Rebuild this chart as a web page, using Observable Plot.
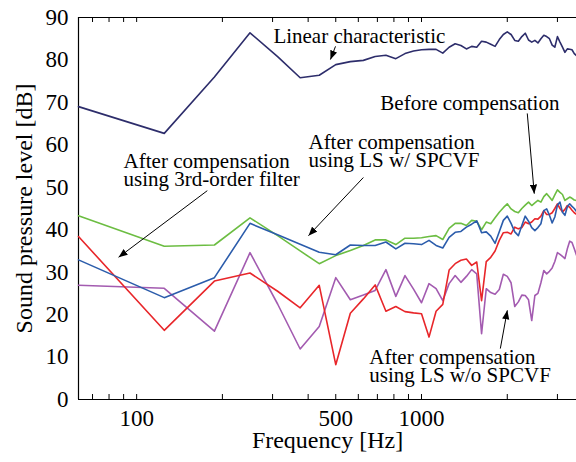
<!DOCTYPE html>
<html><head><meta charset="utf-8">
<script src="https://cdn.jsdelivr.net/npm/d3@7"></script>
<script src="https://cdn.jsdelivr.net/npm/@observablehq/plot@0.6"></script>
<style>body{margin:0;background:#fff}</style>
</head><body><div id="chart"></div>
<script>
// Frequency bins (Hz)
const freq = [62.5,125,187.5,250,312.5,375,437.5,500,562.5,625,687.5,750,812.5,875,937.5,1000,
  1062.5,1125,1187.5,1250,1312.5,1375,1437.5,1500,1562.5,1625,1687.5,1750,1812.5,1875,1937.5,2000,
  2062.5,2125,2187.5,2250,2312.5,2375,2437.5,2500,2562.5,2625,2687.5,2750,2812.5,2875,2937.5,3000,
  3062.5,3125,3187.5,3250,3312.5,3375,3437.5,3500];

// Sound pressure level [dB] per series
const linearChar = [69,62.7,76,86.4,80.8,75.8,76.4,78.9,79.6,79.9,80.8,81.1,80.3,81.5,82.1,82.4,82.5,82.5,81.6,83,
  83.8,83.4,82.6,83.2,83,84.4,84.2,83.7,83.2,84.8,86,86.6,86,84.6,84.4,85.5,86.3,84.7,84.2,84.6,
  84,85,85.8,85.5,85,83.5,83,85.5,84.2,83,81.8,82.6,82.5,82.4,81.5,81];
const beforeComp = [43.3,36.1,36.4,42.8,38.6,35,32,33.9,35.1,36.3,37.6,37.6,36.5,38,38,38.1,38.4,38.6,37.7,40.3,
  41.5,41.5,41,42.2,42,40,41.8,41.4,42.8,44.1,45.2,46.1,44.9,44.3,44,45,45.8,46.5,45.7,46.3,
  46.9,46.5,47.8,48.5,47.7,46.9,48.2,49.4,48.8,48.3,46.9,47.3,47.7,47.4,47,46.9];
const lsWithSpcvf = [32.9,24,28.7,41.5,38.8,36.6,34.7,34.1,36.4,36.3,36.3,37.1,35.5,36.8,36.7,36.5,37.5,36.3,35.7,38.2,
  39.4,39.6,40.6,41.3,42.1,39.3,39.5,38.5,36.8,39.5,42.2,43.2,41.5,39.5,38.6,41,43.2,42,40.5,39.8,
  40.5,41.4,44.5,44.9,43.4,41.6,43,45.8,46.5,44.1,43.4,45.4,46.1,45.5,45,44.3];
const thirdOrder = [38.4,16.3,27.9,29.8,25.5,21.6,26.9,8.2,20.3,23.7,27,20.8,21.9,20.7,20.4,20.2,14.7,20.8,22.4,30.5,
  32,32.8,33.1,31.6,32.4,23.3,32.5,33.5,35,37.5,39.3,39.4,39,40.6,40.2,40.5,41.8,41.4,41.8,42.6,
  42.5,43.2,44.5,43.6,43.6,44,45,46.1,45,44.2,44.8,45.7,45.3,44.6,44,43.6];
const lsWithoutSpcvf = [26.9,26.2,16.1,34.6,22.5,11.9,17.2,28.7,23.5,24.6,25.7,30.6,24.3,29.2,26,22.8,27.3,26.1,23.3,27.3,
  29.2,27.6,29,30.6,29.6,15.5,26.1,25.2,24.8,25.9,29.5,29,27.5,21.9,23,24.6,24.5,23.5,18.6,24.5,
  25,27.5,30.4,29.6,30.2,31,32.5,34.6,34.2,33.7,33.2,35.5,37.3,37,35.5,34];

const seriesNames = ["Linear characteristic","After compensation using LS w/o SPCVF","After compensation using 3rd-order filter","Before compensation","After compensation using LS w/ SPCVF"];
const seriesValues = [linearChar, lsWithoutSpcvf, thirdOrder, beforeComp, lsWithSpcvf];
const seriesColors = ["#2d2d6b","#a35bb0","#e8262a","#6cbd42","#2b5cab"];

const xDomain = [62.5, 3500];
const yDomain = [0, 90];
const yTicks = [0,10,20,30,40,50,60,70,80,90];
const xTickLabels = [100,500,1000];
const xMinorTicks = [70,80,90,100,200,300,400,500,600,700,800,900,1000,2000,3000];

// annotations (position in data units: Hz, dB)
const noteText = ["Linear characteristic","Before compensation","After compensation\nusing LS w/ SPCVF","After compensation\nusing 3rd-order filter","After compensation\nusing LS w/o SPCVF"];
const noteF = [302, 717, 401, 90, 656];
const noteV = [84.1, 68.3, 54.8, 50.4, 4.1];
// arrows: from (f1,v1) to (f2,v2)
const arrowF1 = [499, 2351, 625, 177, 1891];
const arrowV1 = [83.2, 67.4, 52.3, 49.2, 12.0];
const arrowF2 = [479, 2488, 401, 86.4, 2001];
const arrowV2 = [80.1, 48.5, 38.6, 33.5, 21.0];

const rows = seriesNames.flatMap((name, s) => freq.map((f, i) => ({f, v: seriesValues[s][i], name})));
const notes = noteText.map((text, i) => ({text, f: noteF[i], v: noteV[i]}));
const arrows = arrowF1.map((f1, i) => ({f1, v1: arrowV1[i], f2: arrowF2[i], v2: arrowV2[i]}));

function filledArrow(color) {
  const ns = "http://www.w3.org/2000/svg";
  const m = document.createElementNS(ns, "marker");
  m.setAttribute("viewBox", "-9 -4 9 8");
  m.setAttribute("markerWidth", 9);
  m.setAttribute("markerHeight", 8);
  m.setAttribute("markerUnits", "userSpaceOnUse");
  m.setAttribute("orient", "auto");
  m.setAttribute("refX", 0);
  m.setAttribute("refY", 0);
  const p = document.createElementNS(ns, "path");
  p.setAttribute("d", "M-9,-3.6L0,0L-9,3.6Z");
  p.setAttribute("fill", color);
  p.setAttribute("stroke", "none");
  m.appendChild(p);
  return m;
}

function build(marker) {
  return Plot.plot({
    width: 576, height: 462,
    marginLeft: 78, marginRight: 0, marginTop: 17, marginBottom: 63,
    style: {fontFamily: "'Liberation Serif', 'Times New Roman', serif", background: "white", color: "black"},
    x: {type: "log", domain: xDomain, axis: null},
    y: {domain: yDomain},
    color: {domain: seriesNames, range: seriesColors},
    marks: [
      Plot.ruleY([yDomain[0], yDomain[1]], {stroke: "black", strokeWidth: 1.2}),
      Plot.ruleX([xDomain[0]], {stroke: "black", strokeWidth: 1.2}),
      Plot.tickX(xMinorTicks, {x: d => d, insetTop: 377, stroke: "black"}),
      Plot.tickX(xMinorTicks, {x: d => d, insetBottom: 377, stroke: "black"}),
      Plot.text(xTickLabels, {x: d => d, text: d => `${d}`, frameAnchor: "bottom", lineAnchor: "top", dy: 10, fontSize: 23, fill: "black"}),
      Plot.axisY(yTicks, {tickSize: 0, tickPadding: 10, fontSize: 23, label: null}),
      Plot.line(rows, {x: "f", y: "v", z: "name", stroke: "name", strokeWidth: 1.6}),
      Plot.link(arrows, {x1: "f1", y1: "v1", x2: "f2", y2: "v2", stroke: "black", strokeWidth: 1, markerEnd: marker}),
      Plot.text(notes, {x: "f", y: "v", text: "text", textAnchor: "start", lineAnchor: "bottom", lineHeight: 0.86, fontSize: 21, fill: "black"}),
      Plot.text(["Sound pressure level [dB]"], {frameAnchor: "left", textAnchor: "middle", rotate: -90, dx: -54, fontSize: 24, fill: "black"}),
      Plot.text(["Frequency [Hz]"], {frameAnchor: "bottom", textAnchor: "middle", lineAnchor: "bottom", dy: 48, fontSize: 24, fill: "black"})
    ]
  });
}
let chart;
try { chart = build(filledArrow); } catch (e) { chart = build("arrow"); }
document.getElementById("chart").appendChild(chart);
</script>
</body></html>
